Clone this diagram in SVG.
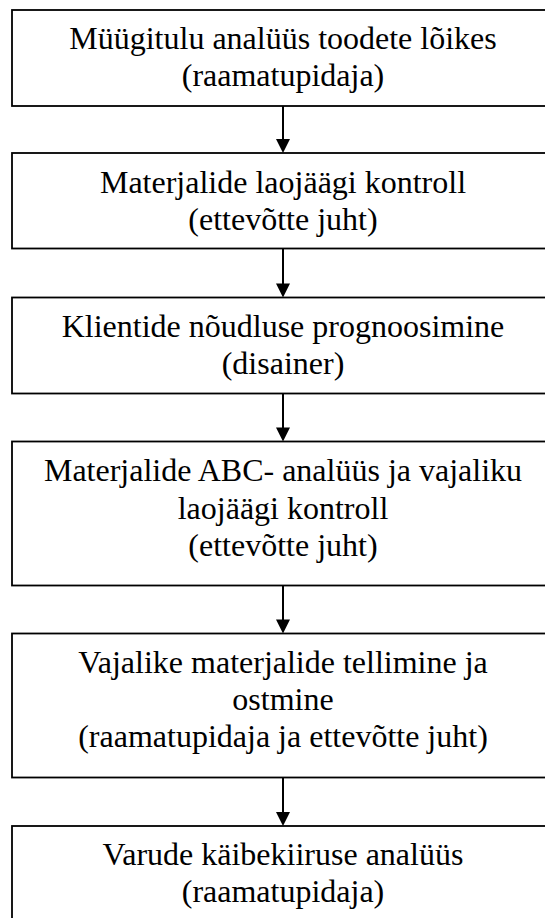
<svg xmlns="http://www.w3.org/2000/svg" width="545" height="918" viewBox="0 0 545 918">
<style>
.box{fill:#fff;stroke:#000;stroke-width:1.8}
.t{font-family:"Liberation Serif","Times New Roman",serif;font-size:32px;fill:#000;text-anchor:middle}
.c{stroke:#000;stroke-width:2;fill:none}
.h{fill:#000}
</style>
<rect width="545" height="918" fill="#fff"/>
<g id="n1"><rect class="box" x="12" y="10" width="542" height="96"/>
<text class="t" x="283" y="49">Müügitulu analüüs toodete lõikes</text>
<text class="t" x="283" y="86">(raamatupidaja)</text></g>
<g id="n2"><rect class="box" x="12" y="153" width="542" height="95.5"/>
<text class="t" x="283" y="193">Materjalide laojäägi kontroll</text>
<text class="t" x="283" y="230">(ettevõtte juht)</text></g>
<g id="n3"><rect class="box" x="12" y="297.5" width="542" height="96"/>
<text class="t" x="283" y="337">Klientide nõudluse prognoosimine</text>
<text class="t" x="283" y="374">(disainer)</text></g>
<g id="n4"><rect class="box" x="12" y="441.5" width="542" height="144"/>
<text class="t" x="283" y="481">Materjalide ABC- analüüs ja vajaliku</text>
<text class="t" x="283" y="518.5">laojäägi kontroll</text>
<text class="t" x="283" y="556">(ettevõtte juht)</text></g>
<g id="n5"><rect class="box" x="12" y="633.5" width="542" height="144"/>
<text class="t" x="283" y="673">Vajalike materjalide tellimine ja</text>
<text class="t" x="283" y="710">ostmine</text>
<text class="t" x="283" y="747">(raamatupidaja ja ettevõtte juht)</text></g>
<g id="n6"><rect class="box" x="12" y="826" width="542" height="110"/>
<text class="t" x="283" y="865">Varude käibekiiruse analüüs</text>
<text class="t" x="283" y="902">(raamatupidaja)</text></g>
<g id="connectors">
<line class="c" x1="283" y1="106" x2="283" y2="140"/><polygon class="h" points="276,139 290,139 283,153"/>
<line class="c" x1="283" y1="248.5" x2="283" y2="284"/><polygon class="h" points="276,283.5 290,283.5 283,297.5"/>
<line class="c" x1="283" y1="393.5" x2="283" y2="428"/><polygon class="h" points="276,427.5 290,427.5 283,441.5"/>
<line class="c" x1="283" y1="585.5" x2="283" y2="620"/><polygon class="h" points="276,619.5 290,619.5 283,633.5"/>
<line class="c" x1="283" y1="777.5" x2="283" y2="812"/><polygon class="h" points="276,812 290,812 283,826"/>
</g>
</svg>
